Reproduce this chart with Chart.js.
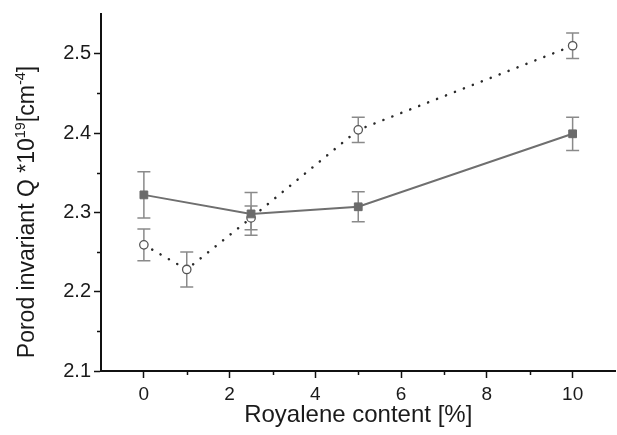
<!DOCTYPE html>
<html>
<head>
<meta charset="utf-8">
<script src="https://cdn.jsdelivr.net/npm/chart.js@4/dist/chart.umd.min.js"></script>
<style>
  html, body { margin: 0; padding: 0; background: #fff; }
  #wrap { width: 617px; height: 435px; position: relative; overflow: hidden; }
</style>
</head>
<body>
<div id="wrap"><canvas id="c" width="622" height="435"></canvas></div>
<script>
// ---- data ----
const xSquares = [0, 2.5, 5, 10];
const qSquares = [2.322, 2.298, 2.307, 2.399];
const errSquares = [0.029, 0.027, 0.019, 0.021];

const xCircles = [0, 1, 2.5, 5, 10];
const qCircles = [2.259, 2.228, 2.293, 2.404, 2.510];
const errCircles = [0.020, 0.022, 0.015, 0.016, 0.016];

const xTickLabels = [0, 2, 4, 6, 8, 10];
const yTickLabels = [2.1, 2.2, 2.3, 2.4, 2.5];

const xTitle = 'Royalene content [%]';
const yTitleParts = [
  { t: 'Porod invariant Q *10', sup: false },
  { t: '19', sup: true },
  { t: '[cm', sup: false },
  { t: '-4', sup: true },
  { t: ']', sup: false }
];

const FONT = '"Liberation Sans", Arial, sans-serif';
const TEXT = '#1a1a1a';

function pts(xs, ys) { return xs.map((x, i) => ({ x: x, y: ys[i] })); }

const isMajorX = v => xTickLabels.some(t => Math.abs(t - v) < 1e-6);
const isMajorY = v => yTickLabels.some(t => Math.abs(t - v) < 1e-6);

const errorBars = {
  id: 'errorBars',
  beforeDatasetsDraw(chart) {
    const { ctx, scales: { x, y } } = chart;
    const sets = [
      { xs: xSquares, ys: qSquares, es: errSquares, color: '#8a8a8a' },
      { xs: xCircles, ys: qCircles, es: errCircles, color: '#8a8a8a' }
    ];
    ctx.save();
    ctx.lineWidth = 1.5;
    sets.forEach(s => {
      ctx.strokeStyle = s.color;
      s.xs.forEach((xv, i) => {
        const px = x.getPixelForValue(xv);
        const top = y.getPixelForValue(s.ys[i] + s.es[i]);
        const bot = y.getPixelForValue(s.ys[i] - s.es[i]);
        const w = 6.5;
        ctx.beginPath();
        ctx.moveTo(px, top); ctx.lineTo(px, bot);
        ctx.moveTo(px - w, top); ctx.lineTo(px + w, top);
        ctx.moveTo(px - w, bot); ctx.lineTo(px + w, bot);
        ctx.stroke();
      });
    });
    ctx.restore();
  }
};

const minorTicks = {
  id: 'minorTicks',
  afterDraw(chart) {
    const { ctx, scales: { x, y } } = chart;
    ctx.save();
    ctx.strokeStyle = '#111';
    ctx.lineWidth = 1.5;
    x.ticks.forEach(t => {
      if (!isMajorX(t.value) && t.value > x.min && t.value < x.max) {
        const px = Math.round(x.getPixelForValue(t.value)) + 0.5;
        ctx.beginPath(); ctx.moveTo(px, x.top); ctx.lineTo(px, x.top + 4); ctx.stroke();
      }
    });
    y.ticks.forEach(t => {
      if (!isMajorY(t.value) && t.value > y.min && t.value < y.max) {
        const py = Math.round(y.getPixelForValue(t.value)) + 0.5;
        ctx.beginPath(); ctx.moveTo(y.right, py); ctx.lineTo(y.right - 4, py); ctx.stroke();
      }
    });
    ctx.restore();
  }
};

const yTitle = {
  id: 'yTitle',
  afterDraw(chart) {
    const { ctx } = chart;
    const big = 23, small = 14.5;
    ctx.save();
    ctx.fillStyle = TEXT;
    ctx.textBaseline = 'alphabetic';
    let total = 0;
    yTitleParts.forEach(p => {
      ctx.font = (p.sup ? small : big) + 'px ' + FONT;
      total += ctx.measureText(p.t).width;
    });
    const cx = 34, cy = 212;
    ctx.translate(cx, cy);
    ctx.rotate(-Math.PI / 2);
    let pos = -total / 2;
    yTitleParts.forEach(p => {
      ctx.font = (p.sup ? small : big) + 'px ' + FONT;
      ctx.fillText(p.t, pos, p.sup ? -9.5 : 0);
      pos += ctx.measureText(p.t).width;
    });
    ctx.restore();
  }
};

new Chart(document.getElementById('c'), {
  type: 'scatter',
  data: {
    datasets: [
      {
        label: 'squares',
        data: pts(xSquares, qSquares),
        showLine: true,
        borderColor: '#6f6f6f',
        borderWidth: 2,
        pointStyle: 'rect',
        pointRadius: 5.5,
        pointBackgroundColor: '#6b6b6b',
        pointBorderColor: '#6b6b6b',
        pointBorderWidth: 1
      },
      {
        label: 'circles',
        data: pts(xCircles, qCircles),
        showLine: true,
        borderColor: '#2a2a2a',
        borderWidth: 2.5,
        borderDash: [0.1, 9.5],
        borderCapStyle: 'round',
        pointStyle: 'circle',
        pointRadius: 4.2,
        pointBackgroundColor: '#ffffff',
        pointBorderColor: '#555555',
        pointBorderWidth: 1.3
      }
    ]
  },
  options: {
    responsive: false,
    animation: false,
    events: [],
    layout: { padding: { top: 14, right: 2, left: 0, bottom: 0 } },
    plugins: { legend: { display: false }, tooltip: { enabled: false } },
    scales: {
      x: {
        type: 'linear',
        min: -1, max: 11,
        afterFit(s) { s.height = 64; s.paddingLeft = 0; s.paddingRight = 0; },
        border: { display: true, color: '#111', width: 2 },
        grid: {
          drawOnChartArea: false, drawTicks: true, tickLength: 7, tickWidth: 1.5,
          tickColor: c => (isMajorX(c.tick.value) ? '#111' : 'rgba(0,0,0,0)')
        },
        ticks: {
          stepSize: 1, autoSkip: false, maxRotation: 0, padding: 5,
          color: TEXT, font: { family: FONT, size: 19 },
          callback: v => (isMajorX(v) ? String(Math.round(v)) : '')
        },
        title: {
          display: true, text: xTitle, color: TEXT,
          font: { family: FONT, size: 24 }, padding: { top: 0, bottom: 5 }
        }
      },
      y: {
        type: 'linear',
        min: 2.1, max: 2.55,
        afterFit(s) { s.width = 101; s.paddingTop = 0; s.paddingBottom = 0; },
        border: { display: true, color: '#111', width: 2 },
        grid: {
          drawOnChartArea: false, drawTicks: true, tickLength: 7, tickWidth: 1.5,
          tickColor: c => (isMajorY(c.tick.value) ? '#111' : 'rgba(0,0,0,0)')
        },
        ticks: {
          stepSize: 0.05, autoSkip: false, padding: 3,
          color: TEXT, font: { family: FONT, size: 20 },
          callback: v => (isMajorY(v) ? (Math.round(v * 10) / 10).toFixed(1) : '')
        }
      }
    }
  },
  plugins: [errorBars, minorTicks, yTitle]
});
</script>
</body>
</html>
